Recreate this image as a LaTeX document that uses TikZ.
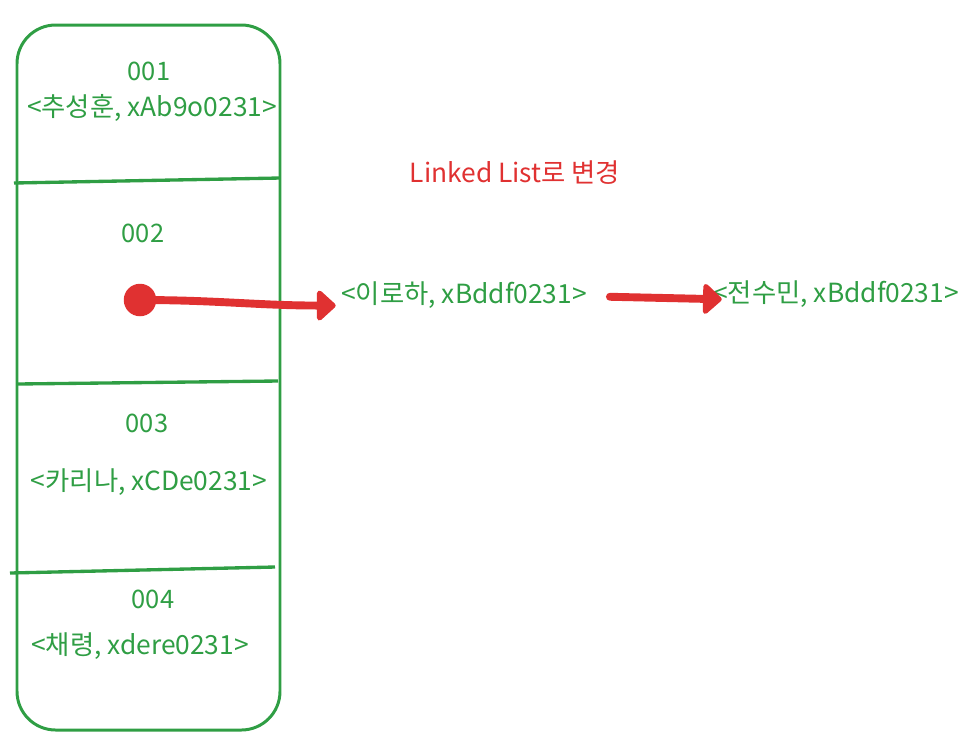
\documentclass[tikz,border=0pt]{standalone}
\usepackage{fontspec}
\setmainfont{Noto Sans CJK KR}
\usetikzlibrary{arrows.meta,positioning}
\definecolor{zold}{HTML}{2F9E44}
\definecolor{piros}{HTML}{E03131}
\tikzset{
  kulcs/.style={text=zold,inner sep=1pt,font=\fontsize{14.5}{16}\selectfont},
  rekord/.style={text=zold,inner sep=1pt,font=\fontsize{15}{17}\selectfont},
  keret/.style={draw=zold,line width=1.7pt},
  vonal/.style={draw=zold,line width=1.9pt},
  vnyil/.style={-{Triangle[round,length=4mm,width=7mm]},draw=piros,line width=4.5pt,line cap=round},
  pont/.style={circle,fill=piros,inner sep=0pt,minimum size=6.5mm},
  cimke/.style={text=piros,inner sep=1pt,font=\fontsize{15}{17}\selectfont},
}
\begin{document}
\begin{tikzpicture}[x=0.02cm,y=-0.02cm]
  \useasboundingbox (0,0) rectangle (977,752);
  % tabla
  \draw[keret,rounded corners=22pt] (17,25) rectangle (280,730);
  \draw[vonal] (14,183) -- (280,178);
  \draw[vonal] (17,384) -- (278,381);
  \draw[vonal] (10,573) -- (275,567);
  % cellak
  \node[kulcs] (k1) at (149,71) {001};
  \node[rekord] (r1) at (152,108) {<추성훈, xAb9o0231>};
  \node[kulcs] (k2) at (143,233) {002};
  \node[kulcs] (k3) at (147,423) {003};
  \node[rekord] (r3) at (149,482) {<카리나, xCDe0231>};
  \node[kulcs] (k4) at (153,599) {004};
  \node[rekord] (r4) at (140,646) {<채령, xdere0231>};
  % lancolt lista
  \node[cimke] (cim) at (515,173) {Linked List로 변경};
  \node[rekord] (lee) at (464,295) {<이로하, xBddf0231>};
  \node[rekord] (jeon) at (836,294) {<전수민, xBddf0231>};
  \node[pont] (p) at (140,300) {};
  \draw[vnyil] (p.center) to[out=0,in=180] ([xshift=-2pt,yshift=-6pt]lee.west);
  \draw[vnyil] ([xshift=12pt,yshift=-1pt]lee.east) -- ([xshift=6pt,yshift=-3pt]jeon.west);
\end{tikzpicture}
\end{document}
